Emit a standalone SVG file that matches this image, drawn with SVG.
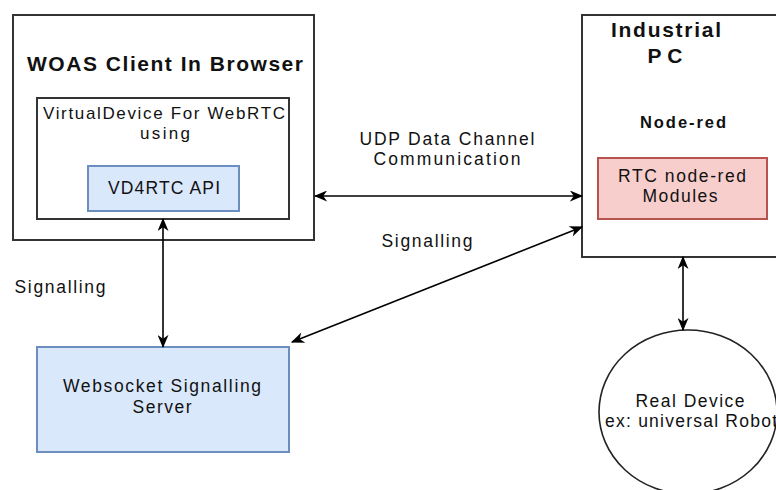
<svg xmlns="http://www.w3.org/2000/svg" width="776" height="490" viewBox="0 0 776 490">
<style>
text{font-family:"Liberation Sans",Arial,sans-serif;fill:#111;text-anchor:middle}
.b{font-weight:bold}
.box{fill:#fff;stroke:#333;stroke-width:2}
.blue{fill:#dae8fc;stroke:#6c8ebf;stroke-width:2}
.pink{fill:#f8cecc;stroke:#b85450;stroke-width:2}
.conn{stroke:#000;stroke-width:1.6;fill:none;marker-start:url(#ah);marker-end:url(#ah)}
</style>
<defs>
<marker id="ah" viewBox="0 0 12 10" refX="11" refY="5" markerWidth="14" markerHeight="11" markerUnits="userSpaceOnUse" orient="auto-start-reverse">
<path d="M0,0 L12,5 L0,10 L3.5,5 Z" fill="#000"/>
</marker>
</defs>
<rect width="776" height="490" fill="#fff"/>
<g id="woas">
<rect class="box" x="13" y="15" width="301" height="225"/>
<text class="b" x="165" y="71" font-size="21" textLength="276" lengthAdjust="spacing">WOAS Client In Browser</text>
</g>
<g id="virtualdevice">
<rect class="box" x="37" y="98" width="252" height="121"/>
<text x="164" y="119" font-size="17" textLength="242" lengthAdjust="spacing">VirtualDevice For WebRTC</text>
<text x="165" y="139" font-size="17" textLength="50" lengthAdjust="spacing">using</text>
</g>
<g id="vd4rtc">
<rect class="blue" x="88" y="166" width="151" height="45"/>
<text x="164" y="194" font-size="17.5" textLength="112" lengthAdjust="spacing">VD4RTC API</text>
</g>
<g id="industrial">
<rect class="box" x="582" y="15" width="200" height="242"/>
<text class="b" x="666" y="37" font-size="21" textLength="110" lengthAdjust="spacing">Industrial</text>
<text class="b" x="665" y="63" font-size="21" textLength="35" lengthAdjust="spacing">PC</text>
<text class="b" x="683" y="128" font-size="16.5" textLength="86" lengthAdjust="spacing">Node-red</text>
</g>
<g id="rtcmodules">
<rect class="pink" x="598" y="158" width="169" height="61"/>
<text x="682" y="182" font-size="17.5" textLength="128" lengthAdjust="spacing">RTC node-red</text>
<text x="680" y="202" font-size="17.5" textLength="75" lengthAdjust="spacing">Modules</text>
</g>
<g id="websocket">
<rect class="blue" x="37" y="347" width="252" height="105"/>
<text x="162" y="392" font-size="17.5" textLength="198" lengthAdjust="spacing">Websocket Signalling</text>
<text x="162" y="413" font-size="17.5" textLength="59" lengthAdjust="spacing">Server</text>
</g>
<g id="realdevice">
<ellipse cx="688" cy="412" rx="89" ry="82" fill="#fff" stroke="#222" stroke-width="1.6"/>
<text x="690" y="407" font-size="17.5" textLength="109" lengthAdjust="spacing">Real Device</text>
<text x="605" y="427" font-size="17.5" style="text-anchor:start" textLength="172" lengthAdjust="spacing">ex: universal Robot</text>
</g>
<g id="connectors">
<line class="conn" x1="163" y1="219" x2="163" y2="347"/>
<line class="conn" x1="315" y1="196" x2="582" y2="196"/>
<line class="conn" x1="292" y1="342" x2="582" y2="227"/>
<line class="conn" x1="683" y1="257" x2="683" y2="330"/>
</g>
<g id="labels">
<text x="447" y="145" font-size="17.5" textLength="175" lengthAdjust="spacing">UDP Data Channel</text>
<text x="447" y="165" font-size="17.5" textLength="147" lengthAdjust="spacing">Communication</text>
<text x="427" y="247" font-size="17.5" textLength="91" lengthAdjust="spacing">Signalling</text>
<text x="60" y="293" font-size="17.5" textLength="91" lengthAdjust="spacing">Signalling</text>
</g>
</svg>
